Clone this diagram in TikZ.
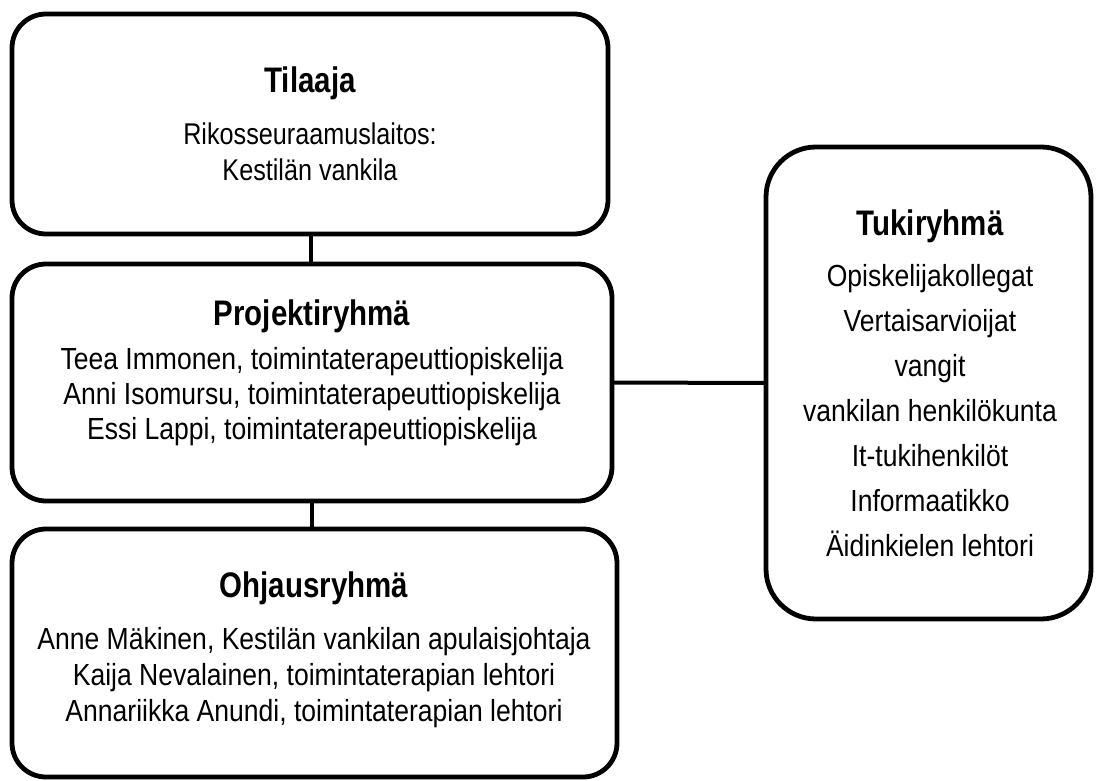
\documentclass[tikz,border=0pt]{standalone}
\usepackage{fontspec}
\setmainfont{Liberation Sans}
\newfontfamily\titlefont[FakeStretch=0.83]{Liberation Sans}
\newfontfamily\bodyfont[FakeStretch=0.87]{Liberation Sans}
\newfontfamily\narrowfont[FakeStretch=0.84]{Liberation Sans}
\begin{document}
\begin{tikzpicture}[x=1pt,y=-1pt,
  box/.style={draw=black,line width=4.8pt,rounded corners=34pt,inner sep=0pt,outer sep=0pt,fill=white},
  bigbox/.style={box,rounded corners=50pt},
  link/.style={draw=black,line width=4pt},
  ttl/.style={anchor=base,inner sep=0pt,font=\titlefont\fontsize{35.5}{38}\selectfont\bfseries},
  txt/.style={anchor=base,inner sep=0pt,font=\bodyfont\fontsize{30.5}{34}\selectfont},
  ntxt/.style={anchor=base,inner sep=0pt,font=\narrowfont\fontsize{30}{34}\selectfont}]
\useasboundingbox[fill=white] (0,0) rectangle (1097,781);
% boxes
\node[box,minimum width=596pt,minimum height=220pt] (tilaaja) at (310,124) {};
\node[box,minimum width=600pt,minimum height=237pt] (projekti) at (312,382.5) {};
\node[box,minimum width=605pt,minimum height=248pt] (ohjaus) at (314.5,653) {};
\node[bigbox,minimum width=325pt,minimum height=472pt] (tuki) at (928.5,383) {};
% connectors
\draw[link] (tilaaja.south -| 311,0) coordinate (c1) -- (c1 |- projekti.north);
\draw[link] (projekti.south -| 312,0) coordinate (c2) -- (c2 |- ohjaus.north);
\draw[link] (projekti.east) -- (tuki.west);
% Tilaaja
\node[ttl] (t0) at (310,93) {Tilaaja};
\node[ntxt] (t1) at (310,144) {Rikosseuraamuslaitos:};
\node[ntxt] (t2) at (310,180) {Kestilän vankila};
% Projektiryhma
\node[ttl] (p0) at (312,325) {Projektiryhmä};
\node[txt] (p1) at (312,369) {Teea Immonen, toimintaterapeuttiopiskelija};
\node[txt] (p2) at (312,404) {Anni Isomursu, toimintaterapeuttiopiskelija};
\node[txt] (p3) at (312,439) {Essi Lappi, toimintaterapeuttiopiskelija};
% Ohjausryhma
\node[ttl] (o0) at (314,597) {Ohjausryhmä};
\node[txt] (o1) at (314,649) {Anne Mäkinen, Kestilän vankilan apulaisjohtaja};
\node[txt] (o2) at (314,685) {Kaija Nevalainen, toimintaterapian lehtori};
\node[txt] (o3) at (314,721) {Annariikka Anundi, toimintaterapian lehtori};
% Tukiryhma
\node[ttl] (k0) at (930,235) {Tukiryhmä};
\node[txt] (k1) at (930,286) {Opiskelijakollegat};
\node[txt] (k2) at (930,331) {Vertaisarvioijat};
\node[txt] (k3) at (930,376) {vangit};
\node[txt] (k4) at (930,421) {vankilan henkilökunta};
\node[txt] (k5) at (930,466) {It-tukihenkilöt};
\node[txt] (k6) at (930,511) {Informaatikko};
\node[txt] (k7) at (930,556) {Äidinkielen lehtori};
\end{tikzpicture}
\end{document}
